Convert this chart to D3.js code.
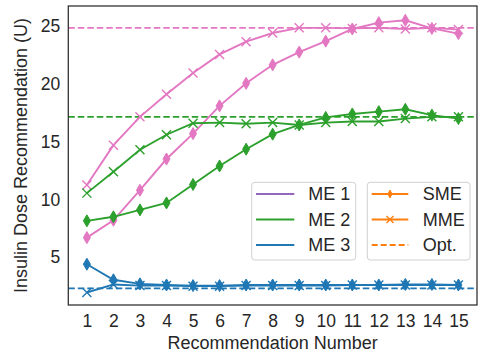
<!DOCTYPE html>
<html>
<head>
<meta charset="utf-8">
<script src="https://cdn.jsdelivr.net/npm/d3@7"></script>
<style>
  body { margin: 0; background: #fff; }
  text { font-family: "Liberation Sans", Arial, sans-serif; fill: #262626; }
</style>
</head>
<body>
<div id="chart"></div>
<script>
// recommendation numbers
var recs = [1, 2, 3, 4, 5, 6, 7, 8, 9, 10, 11, 12, 13, 14, 15];

// ME 1 (pink)
var me1Sme = [6.7, 8.2, 10.8, 13.5, 15.7, 18.1, 20.05, 21.65, 22.75, 23.7, 24.75, 25.3, 25.5, 24.8, 24.35];
var me1Mme = [11.25, 14.7, 17.15, 19.1, 20.95, 22.55, 23.65, 24.4, 24.85, 24.85, 24.8, 24.85, 24.75, 24.85, 24.7];
// ME 2 (green)
var me2Sme = [8.15, 8.5, 9.1, 9.7, 11.3, 12.9, 14.35, 15.65, 16.45, 17.1, 17.4, 17.6, 17.8, 17.3, 17.0];
var me2Mme = [10.55, 12.4, 14.3, 15.6, 16.6, 16.65, 16.55, 16.65, 16.45, 16.65, 16.75, 16.75, 17.0, 17.15, 17.15];
// ME 3 (blue)
var me3Sme = [4.4, 3.05, 2.7, 2.6, 2.55, 2.55, 2.6, 2.6, 2.6, 2.6, 2.6, 2.6, 2.65, 2.65, 2.6];
var me3Mme = [1.95, 2.65, 2.55, 2.55, 2.5, 2.5, 2.55, 2.55, 2.55, 2.55, 2.6, 2.6, 2.6, 2.6, 2.6];

// optimal doses
var optDoses = [24.85, 17.15, 2.3];

var yTicks = [5, 10, 15, 20, 25];
var plotColors = ["#e377c2", "#2ca02c", "#1f77b4"];
var legendColors = ["#9467bd", "#2ca02c", "#1f77b4"];
var legendNames = ["ME 1", "ME 2", "ME 3"];
var styleNames = ["SME", "MME", "Opt."];

var W = 483, H = 356;
var margin = {top: 6, right: 6, bottom: 51, left: 68.3},
    width = W - margin.left - margin.right,
    height = H - margin.top - margin.bottom;

var svg = d3.select("#chart")
  .append("svg")
    .attr("width", W)
    .attr("height", H)
  .append("g")
    .attr("transform", "translate(" + margin.left + "," + margin.top + ")");

var x = d3.scaleLinear()
  .domain([0.3, 15.7])
  .range([0, width]);

var y = d3.scaleLinear()
  .domain([0.87, 26.74])
  .range([height, 0]);

// axes (no tick marks, seaborn-white look)
svg.append("g")
  .attr("transform", "translate(0," + height + ")")
  .call(d3.axisBottom(x).tickValues(recs).tickSize(0).tickPadding(10))
  .call(g => g.select(".domain").remove())
  .selectAll("text")
  .style("font-size", "17.5px");

svg.append("g")
  .call(d3.axisLeft(y).tickValues(yTicks).tickSize(0).tickPadding(8))
  .call(g => g.select(".domain").remove())
  .selectAll("text")
  .style("font-size", "17.5px");

svg.append("text")
  .attr("x", width / 2)
  .attr("y", height + 44)
  .style("text-anchor", "middle")
  .style("font-size", "18px")
  .text("Recommendation Number");

svg.append("text")
  .attr("transform", "translate(" + (-41) + "," + (height / 2) + ")rotate(-90)")
  .style("text-anchor", "middle")
  .style("font-size", "18px")
  .text("Insulin Dose Recommendation (U)");

// optimal dashed lines
svg.selectAll("optLine")
  .data(optDoses)
  .enter()
  .append("line")
  .attr("x1", 0)
  .attr("x2", width)
  .attr("y1", function(d) { return y(d); })
  .attr("y2", function(d) { return y(d); })
  .attr("stroke", function(d, i) { return plotColors[i]; })
  .attr("stroke-width", 1.7)
  .attr("stroke-dasharray", "6.5,3");

var series = [
  {me: 0, kind: "sme", vals: me1Sme},
  {me: 0, kind: "mme", vals: me1Mme},
  {me: 1, kind: "sme", vals: me2Sme},
  {me: 1, kind: "mme", vals: me2Mme},
  {me: 2, kind: "sme", vals: me3Sme},
  {me: 2, kind: "mme", vals: me3Mme}
];

var line = d3.line()
  .x(function(d, i) { return x(recs[i]); })
  .y(function(d) { return y(d); });

function diamond(g, cx, cy, w, h, col) {
  g.append("path")
    .attr("d", "M" + cx + "," + (cy - h / 2) + "L" + (cx + w / 2) + "," + cy +
               "L" + cx + "," + (cy + h / 2) + "L" + (cx - w / 2) + "," + cy + "Z")
    .attr("fill", col)
    .attr("stroke", col)
    .attr("stroke-width", 1);
}

function cross(g, cx, cy, r, col) {
  g.append("path")
    .attr("d", "M" + (cx - r) + "," + (cy - r) + "L" + (cx + r) + "," + (cy + r) +
               "M" + (cx - r) + "," + (cy + r) + "L" + (cx + r) + "," + (cy - r))
    .attr("stroke", col)
    .attr("stroke-width", 1.4)
    .attr("fill", "none");
}

series.forEach(function(s) {
  var col = plotColors[s.me];
  var g = svg.append("g");
  g.append("path")
    .datum(s.vals)
    .attr("d", line)
    .attr("fill", "none")
    .attr("stroke", col)
    .attr("stroke-width", 1.9);
  s.vals.forEach(function(v, i) {
    if (s.kind == "sme") {
      diamond(g, x(recs[i]), y(v), 7, 12, col);
    } else {
      cross(g, x(recs[i]), y(v), 4.5, col);
    }
  });
});

// frame
svg.append("rect")
  .attr("width", width)
  .attr("height", height)
  .attr("fill", "none")
  .attr("stroke", "#333")
  .attr("stroke-width", 1.3);

// legends (two boxes)
var leg1 = svg.append("g").attr("transform", "translate(" + (251.7 - margin.left) + "," + (182.3 - margin.top) + ")");
leg1.append("rect")
  .attr("width", 104).attr("height", 77.7)
  .attr("rx", 3)
  .attr("fill", "#fff").attr("fill-opacity", 0.8)
  .attr("stroke", "#d0d0d0");
legendNames.forEach(function(n, i) {
  var yy = 11.7 + i * 25.5;
  leg1.append("line")
    .attr("x1", 4.3).attr("x2", 42.6)
    .attr("y1", yy).attr("y2", yy)
    .attr("stroke", legendColors[i]).attr("stroke-width", 1.9);
  leg1.append("text")
    .attr("x", 56.6).attr("y", yy)
    .attr("dy", "0.36em")
    .style("font-size", "18px")
    .text(n);
});

var leg2 = svg.append("g").attr("transform", "translate(" + (367.3 - margin.left) + "," + (182.3 - margin.top) + ")");
leg2.append("rect")
  .attr("width", 102.7).attr("height", 77.7)
  .attr("rx", 3)
  .attr("fill", "#fff").attr("fill-opacity", 0.8)
  .attr("stroke", "#d0d0d0");
styleNames.forEach(function(n, i) {
  var yy = 11.7 + i * 25.5;
  var orange = "#ff7f0e";
  leg2.append("line")
    .attr("x1", 4.4).attr("x2", 41)
    .attr("y1", yy).attr("y2", yy)
    .attr("stroke", orange).attr("stroke-width", 1.9)
    .attr("stroke-dasharray", i == 2 ? "6,3" : null);
  if (i == 0) diamond(leg2, 22.7, yy, 4, 8, orange);
  if (i == 1) cross(leg2, 22.7, yy, 3.5, orange);
  leg2.append("text")
    .attr("x", 55.4).attr("y", yy)
    .attr("dy", "0.36em")
    .style("font-size", "18px")
    .text(n);
});
</script>
</body>
</html>
